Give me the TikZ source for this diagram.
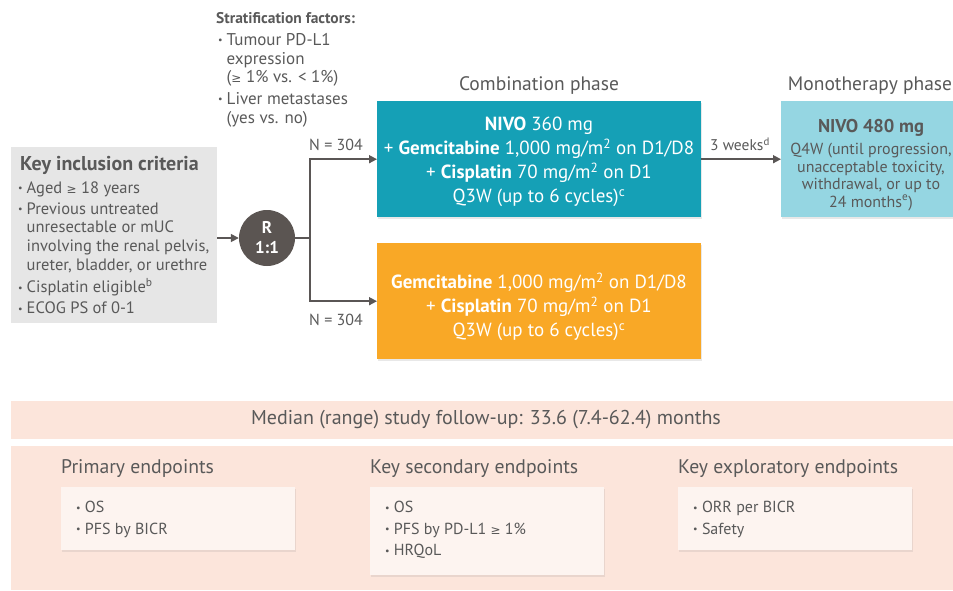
\documentclass[tikz,border=0pt]{standalone}
\usepackage{fontspec}
\setmainfont{PT Sans}
\newfontfamily\symf{DejaVu Sans}
\usetikzlibrary{arrows.meta,shadows}
\definecolor{txt}{HTML}{595959}
\definecolor{linec}{HTML}{5A5655}
\definecolor{grayfill}{HTML}{E6E6E6}
\definecolor{rgray}{HTML}{5B5552}
\definecolor{tealc}{HTML}{15A0B6}
\definecolor{lblue}{HTML}{95D6E2}
\definecolor{orangec}{HTML}{F9A826}
\definecolor{band}{HTML}{FCE5DB}
\definecolor{subfill}{HTML}{FDF4F0}
\newcommand\bul{{\fontsize{10}{10}\selectfont\raisebox{1.5pt}{•}}}
\newcommand\geqsym{{\symf\fontsize{12}{12}\selectfont ≥}}
\begin{document}
\begin{tikzpicture}[x=1pt,y=-1pt,
  txtstyle/.style={text=txt, inner sep=0pt},
  body/.style={txtstyle, font=\fontsize{16.5}{18.6}\selectfont},
  arr/.style={draw=linec, line width=1.6pt, -{Triangle[length=8pt,width=8pt]}},
  conn/.style={draw=linec, line width=1.6pt},
  phasebox/.style={anchor=north west, inner sep=0pt, drop shadow={opacity=0.18, shadow xshift=1.2pt, shadow yshift=-1.5pt}},
  subbox/.style={anchor=north west, fill=subfill, inner sep=0pt, drop shadow={opacity=0.15, shadow xshift=1pt, shadow yshift=-1.5pt}},
  heading/.style={txtstyle, font=\fontsize{19.5}{22}\selectfont},
  ephead/.style={txtstyle, anchor=west, font=\fontsize{19.7}{22}\selectfont},
  eplist/.style={txtstyle, anchor=north west, font=\fontsize{16}{21.5}\selectfont, align=left}
]
\useasboundingbox (0,0) rectangle (953,590);

% Stratification factors
\node[txtstyle, anchor=west, font=\bfseries\fontsize{15.5}{18}\selectfont] (strattitle) at (216,18) {Stratification factors:};
\node[txtstyle, anchor=north west, align=left, font=\fontsize{17}{18.8}\selectfont] (strat) at (218,32) {%
  \begin{tabular}{@{}l@{\hspace{4pt}}l@{}}
  \bul & Tumour PD-L1\\
       & expression\\
       & (\geqsym\ 1\% vs. < 1\%)\\[2.5pt]
  \bul & Liver metastases\\
       & (yes vs. no)
  \end{tabular}};

% Key inclusion criteria
\node[fill=grayfill, anchor=north west, minimum width=206pt, minimum height=176pt, inner sep=0pt] (incl) at (11,147) {};
\node[txtstyle, anchor=west, font=\bfseries\fontsize{20}{24}\selectfont] (incltitle) at (20,165) {Key inclusion criteria};
\node[body, anchor=north west, align=left] (incllist) at (18,180) {%
  \begin{tabular}{@{}l@{\hspace{4pt}}l@{}}
  \bul & Aged \geqsym\ 18 years\\[2.5pt]
  \bul & Previous untreated\\
       & unresectable or mUC\\
       & involving the renal pelvis,\\
       & ureter, bladder, or urethre\\[2.5pt]
  \bul & Cisplatin eligible\textsuperscript{b}\\[2.5pt]
  \bul & ECOG PS of 0-1
  \end{tabular}};

% Randomisation
\node[circle, fill=rgray, minimum size=56pt, inner sep=0pt, text=white, align=center,
      font=\bfseries\fontsize{17}{20}\selectfont] (R) at (267,238) {R\\1:1};

% Treatment boxes
\node[phasebox, fill=tealc, minimum width=324pt, minimum height=116pt] (combo) at (377,101) {};
\node[text=white, inner sep=0pt, align=center, font=\fontsize{19}{24}\selectfont] (combotext) at (539,162) {%
  {\bfseries NIVO} 360 mg\\
  + {\bfseries Gemcitabine} 1,000 mg/m\textsuperscript{2} on D1/D8\\
  + {\bfseries Cisplatin} 70 mg/m\textsuperscript{2} on D1\\
  Q3W (up to 6 cycles)\textsuperscript{c}};

\node[phasebox, fill=lblue, minimum width=172pt, minimum height=116pt] (mono) at (781,101) {};
\node[txtstyle, font=\bfseries\fontsize{18.5}{22}\selectfont] (monotitle) at (871,128) {NIVO 480 mg};
\node[txtstyle, align=center, font=\fontsize{16}{17.5}\selectfont] (monotext) at (871,177) {%
  Q4W (until progression,\\
  unacceptable toxicity,\\
  withdrawal, or up to\\
  24 months\textsuperscript{e})};

\node[phasebox, fill=orangec, minimum width=324pt, minimum height=116pt] (chemo) at (377,243) {};
\node[text=white, inner sep=0pt, align=center, font=\fontsize{19}{24}\selectfont] (chemotext) at (539,307) {%
  {\bfseries Gemcitabine} 1,000 mg/m\textsuperscript{2} on D1/D8\\
  + {\bfseries Cisplatin} 70 mg/m\textsuperscript{2} on D1\\
  Q3W (up to 6 cycles)\textsuperscript{c}};

% Phase headings
\node[heading] (combohead) at (539,86) {Combination phase};
\node[heading] (monohead) at (870,86) {Monotherapy phase};

% Connectors
\coordinate (split) at (310,238);
\draw[arr] (incl.east |- R.west) -- (R.west);
\draw[conn] (R.east) -- (split);
\draw[arr] (split) |- (combo.west);
\draw[arr] (split) |- (chemo.west);
\draw[arr] (combo.east) -- (mono.west);
\node[txtstyle, font=\fontsize{16}{18}\selectfont] (ntop) at (336,145) {N = 304};
\node[txtstyle, font=\fontsize{16}{18}\selectfont] (nbot) at (336,320) {N = 304};
\node[txtstyle, font=\fontsize{15.5}{18}\selectfont] (weeks) at (740,144) {3 weeks\textsuperscript{d}};

% Bottom bands
\node[fill=band, anchor=north west, minimum width=942pt, minimum height=38pt, inner sep=0pt] (fu) at (11,401) {};
\node[txtstyle, font=\fontsize{20}{22}\selectfont] (futext) at (486,420) {Median (range) study follow-up: 33.6 (7.4-62.4) months};
\node[fill=band, anchor=north west, minimum width=942pt, minimum height=144pt, inner sep=0pt] (ep) at (11,446) {};

\node[ephead] (prihead) at (61,469) {Primary endpoints};
\node[ephead] (sechead) at (370,469) {Key secondary endpoints};
\node[ephead] (exphead) at (678,469) {Key exploratory endpoints};

\node[subbox, minimum width=234pt, minimum height=63pt] (pribox) at (61,487) {};
\node[subbox, minimum width=234pt, minimum height=88pt] (secbox) at (370,487) {};
\node[subbox, minimum width=234pt, minimum height=63pt] (expbox) at (678,487) {};

\node[eplist] (prilist) at (76,501) {\bul\ OS\\ \bul\ PFS by BICR};
\node[eplist] (seclist) at (385,501) {\bul\ OS\\ \bul\ PFS by PD-L1 \geqsym\ 1\%\\ \bul\ HRQoL};
\node[eplist] (explist) at (693,501) {\bul\ ORR per BICR\\ \bul\ Safety};
\end{tikzpicture}
\end{document}
